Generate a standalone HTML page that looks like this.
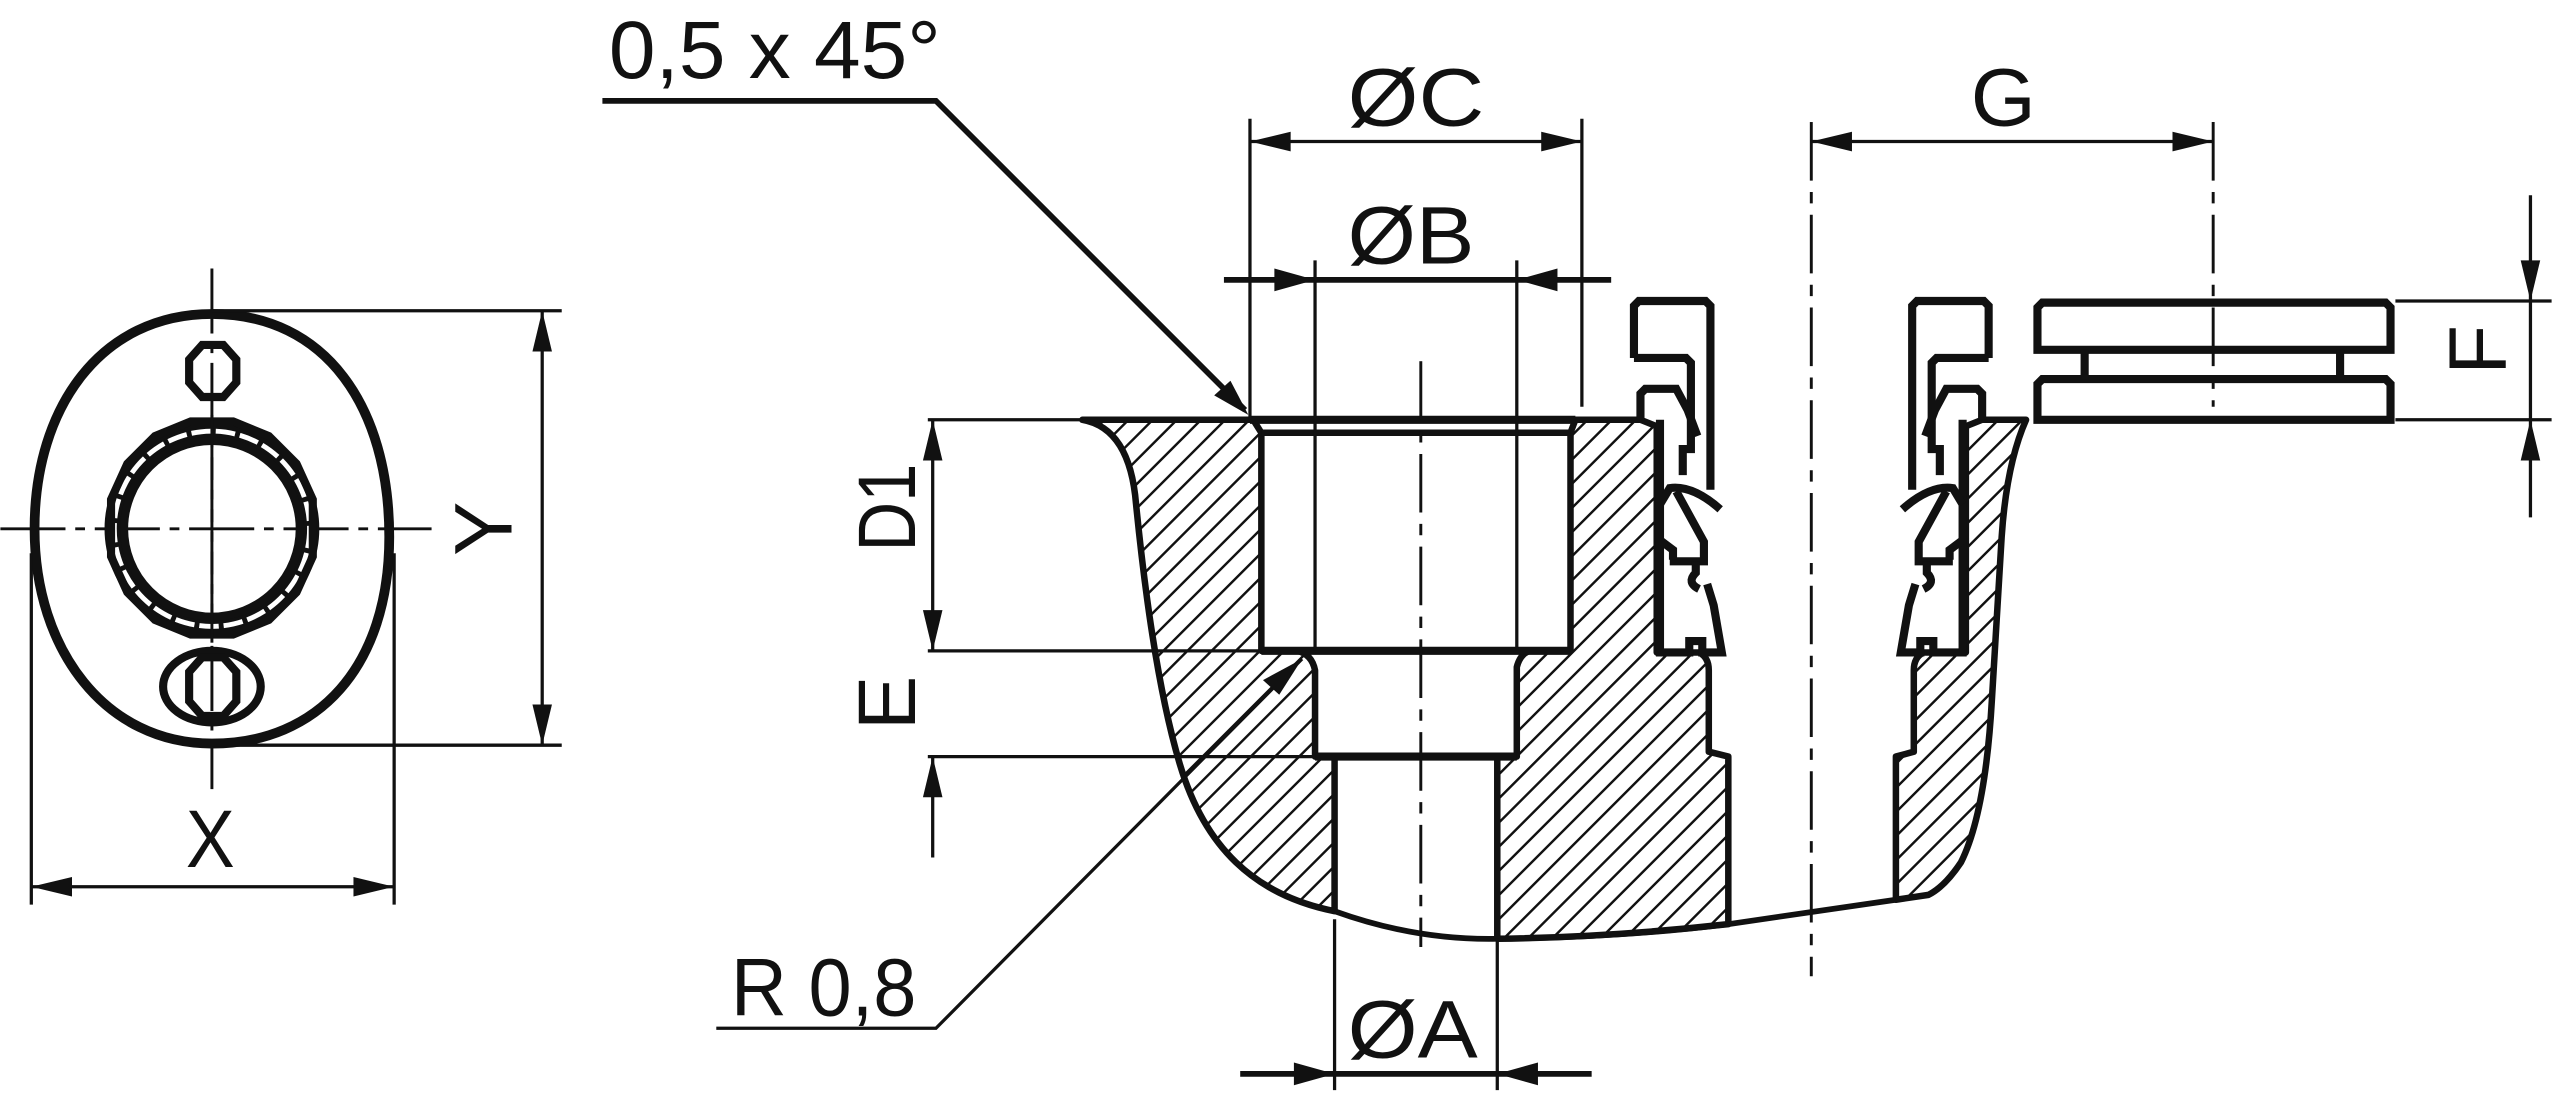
<!DOCTYPE html>
<html><head><meta charset="utf-8"><style>
html,body{margin:0;padding:0;background:#fff}
svg{display:block}
text{font-family:"Liberation Sans",sans-serif;fill:#111}
</style></head><body>
<svg width="2552" height="1095" viewBox="0 0 1568 673" xmlns="http://www.w3.org/2000/svg">
<defs>
<pattern id="h" patternUnits="userSpaceOnUse" width="10.5" height="10.5" patternTransform="rotate(45)">
<line x1="0" y1="-5" x2="0" y2="16" stroke="#111" stroke-width="3"/>
</pattern>
</defs>
<g stroke="#111" fill="none">

<!-- LEFT VIEW -->
<line x1="0" y1="325" x2="265" y2="325" stroke-width="1.8" stroke-dasharray="40,6,6,6"/>
<line x1="130" y1="165" x2="130" y2="485" stroke-width="1.8" stroke-dasharray="40,6,6,6"/>
<path d="M130,193 C200,193 239,250 239,330 C239,410 195,457 130,457 C65,457 21,400 21,325 C21,250 62,193 130,193 Z" stroke-width="6"/>
<circle cx="130" cy="325" r="60" stroke-width="12"/>
<circle cx="130" cy="325" r="60" stroke="#fff" stroke-width="3" stroke-dasharray="12,3"/>
<polygon points="143,259 165,268 182,285 192,307 192,342 182,364 165,381 143,390 117,390 95,381 78,364 68,342 68,307 78,285 95,268 117,259" stroke-width="5"/>
<circle cx="130" cy="325" r="54" stroke-width="5"/>
<line x1="130" y1="255" x2="130" y2="395" stroke-width="1.8" stroke-dasharray="40,6,6,6"/>
<polygon points="124,212 137,212 145,221 145,235 137,244 124,244 116,235 116,221" stroke-width="5"/>
<ellipse cx="130" cy="422" rx="30" ry="22" stroke-width="5"/>
<polygon points="124,404 137,404 145,413 145,431 137,440 124,440 116,431 116,413" stroke-width="5"/>
<!-- Y dim -->
<line x1="130" y1="191" x2="345" y2="191" stroke-width="2"/>
<line x1="130" y1="458" x2="345" y2="458" stroke-width="2"/>
<line x1="333" y1="191" x2="333" y2="458" stroke-width="2"/>
<!-- X dim -->
<line x1="19" y1="340" x2="19" y2="556" stroke-width="2"/>
<line x1="242" y1="340" x2="242" y2="556" stroke-width="2"/>
<line x1="19" y1="545" x2="242" y2="545" stroke-width="2"/>
</g>
<g fill="#111">
<polygon points="333,191 327,216 339,216"/>
<polygon points="333,458 327,433 339,433"/>
<polygon points="19,545 44,539 44,551"/>
<polygon points="242,545 217,539 217,551"/>
</g>

<!-- SECTION: hatched regions -->
<g fill="url(#h)" stroke="#111" stroke-width="4" stroke-linejoin="round">
<path d="M665,258 C688,262 696,285 698,310 C702,350 710,420 725,470 C740,520 770,550 820,560 L820,465 L808,465 L808,412 Q806,402 797,400 L775,400 L775,266 L770,258 Z"/>
<path d="M968,258 L1008,258 L1018,262 L1018,401 L1044,401 Q1050,404 1050,412 L1050,462 L1062,465 L1062,568 Q990,576 920,577 L920,465 L932,465 L932,410 Q934,402 940,400 L965,400 L965,266 Z"/>
<path d="M1245,258 Q1233,285 1230,330 L1224,430 Q1220,500 1205,530 Q1195,545 1185,550 L1165,553 L1165,465 L1176,462 L1176,412 Q1176,404 1182,401 L1208,401 L1208,262 L1218,258 Z"/>
</g>
<g stroke="#111" fill="none">
<line x1="768" y1="258" x2="968" y2="258" stroke-width="5"/>
<line x1="775" y1="266" x2="965" y2="266" stroke-width="4"/>
<line x1="775" y1="400" x2="965" y2="400" stroke-width="5"/>
<line x1="808" y1="465" x2="932" y2="465" stroke-width="5"/>
<path d="M820,560 Q870,578 920,577 Q1000,576 1062,568 L1165,553" stroke-width="3.5"/>
<line x1="873" y1="222" x2="873" y2="582" stroke-width="1.8" stroke-dasharray="36,7,7,7"/>
<line x1="1113" y1="75" x2="1113" y2="600" stroke-width="1.8" stroke-dasharray="36,7,7,7"/>
<line x1="1360" y1="75" x2="1360" y2="250" stroke-width="1.8" stroke-dasharray="36,7,7,7"/>

<!-- clips -->
<g stroke-width="5">
<path d="M1004,220 V188 L1007,185 H1048 L1051,188 V301"/>
<path d="M1004,220 H1036 L1039,223 V276 H1034 V292"/>
<path d="M1008,258 V242 L1011,239 H1030 L1037,252 L1043,268"/>
<path d="M1020,258 V401 H1038 V394 H1046 V401 H1058 L1053,372 L1049,359"/>
<path d="M1020,310 L1026,300 Q1040,298 1057,313"/>
<path d="M1030,302 L1047,333 V345 H1026"/>
<path d="M1042,345 V352 Q1036,358 1044,362"/>
<path d="M1020,332 L1028,338 V344"/>
</g>
<g transform="translate(2226,0) scale(-1,1)" stroke-width="5">
<path d="M1004,220 V188 L1007,185 H1048 L1051,188 V301"/>
<path d="M1004,220 H1036 L1039,223 V276 H1034 V292"/>
<path d="M1008,258 V242 L1011,239 H1030 L1037,252 L1043,268"/>
<path d="M1020,258 V401 H1038 V394 H1046 V401 H1058 L1053,372 L1049,359"/>
<path d="M1020,310 L1026,300 Q1040,298 1057,313"/>
<path d="M1030,302 L1047,333 V345 H1026"/>
<path d="M1042,345 V352 Q1036,358 1044,362"/>
<path d="M1020,332 L1028,338 V344"/>
</g>

<!-- right plates -->
<path d="M1252,189 L1255,186 H1466 L1469,189 V215 H1252 Z" stroke-width="5"/>
<path d="M1252,236 L1255,233 H1466 L1469,236 V258 H1252 Z" stroke-width="5"/>
<line x1="1281" y1="215" x2="1281" y2="233" stroke-width="5"/>
<line x1="1438" y1="215" x2="1438" y2="233" stroke-width="5"/>

<!-- dimension lines -->
<g stroke-width="2">
<line x1="570" y1="258" x2="665" y2="258"/>
<line x1="570" y1="400" x2="775" y2="400"/>
<line x1="570" y1="465" x2="808" y2="465"/>
<line x1="573" y1="258" x2="573" y2="400"/>
<line x1="573" y1="465" x2="573" y2="527"/>
<line x1="768" y1="73" x2="768" y2="258"/>
<line x1="972" y1="73" x2="972" y2="250"/>
<line x1="768" y1="87" x2="972" y2="87"/>
<line x1="808" y1="160" x2="808" y2="400"/>
<line x1="932" y1="160" x2="932" y2="400"/>
<line x1="752" y1="172" x2="990" y2="172" stroke-width="3.5"/>
<line x1="1113" y1="87" x2="1360" y2="87"/>
<line x1="1472" y1="185" x2="1568" y2="185"/>
<line x1="1472" y1="258" x2="1568" y2="258"/>
<line x1="1555" y1="120" x2="1555" y2="318"/>
<line x1="820" y1="565" x2="820" y2="670"/>
<line x1="920" y1="577" x2="920" y2="670"/>
<line x1="762" y1="660" x2="978" y2="660" stroke-width="3.5"/>
<polyline points="370,62 575,62 765,252" stroke-width="3.5"/>
<polyline points="440,632 575,632 800,405" stroke-width="2"/>
</g>
</g>
<g fill="#111">
<polygon points="573,258 567,283 579,283"/>
<polygon points="573,400 567,375 579,375"/>
<polygon points="573,465 567,490 579,490"/>
<polygon points="768,87 793,81 793,93"/>
<polygon points="972,87 947,81 947,93"/>
<polygon points="808,172 783,165 783,179"/>
<polygon points="932,172 957,165 957,179"/>
<polygon points="1113,87 1138,81 1138,93"/>
<polygon points="1360,87 1335,81 1335,93"/>
<polygon points="1555,185 1549,160 1561,160"/>
<polygon points="1555,258 1549,283 1561,283"/>
<polygon points="820,660 795,653 795,667"/>
<polygon points="920,660 945,653 945,667"/>
<polygon points="767,255 746,243 756,234"/>
<polygon points="800,405 786,427 776,418"/>
</g>

<!-- labels -->
<g font-size="50">
<text x="374" y="48" textLength="204" lengthAdjust="spacingAndGlyphs">0,5 x 45°</text>
<text x="828" y="77" textLength="84" lengthAdjust="spacingAndGlyphs">ØC</text>
<text x="828" y="162" textLength="78" lengthAdjust="spacingAndGlyphs">ØB</text>
<text x="1211" y="77" textLength="40" lengthAdjust="spacingAndGlyphs">G</text>
<text x="828" y="650" textLength="80" lengthAdjust="spacingAndGlyphs">ØA</text>
<text x="449" y="624" textLength="114" lengthAdjust="spacingAndGlyphs">R 0,8</text>
<text x="114" y="533" textLength="30" lengthAdjust="spacingAndGlyphs">X</text>
<text transform="translate(314,325) rotate(-90)" text-anchor="middle">Y</text>
<text transform="translate(562,312) rotate(-90)" text-anchor="middle" textLength="54" lengthAdjust="spacingAndGlyphs">D1</text>
<text transform="translate(562,432) rotate(-90)" text-anchor="middle">E</text>
<text transform="translate(1540,215) rotate(-90)" text-anchor="middle">F</text>
</g>
</svg>
</body></html>
